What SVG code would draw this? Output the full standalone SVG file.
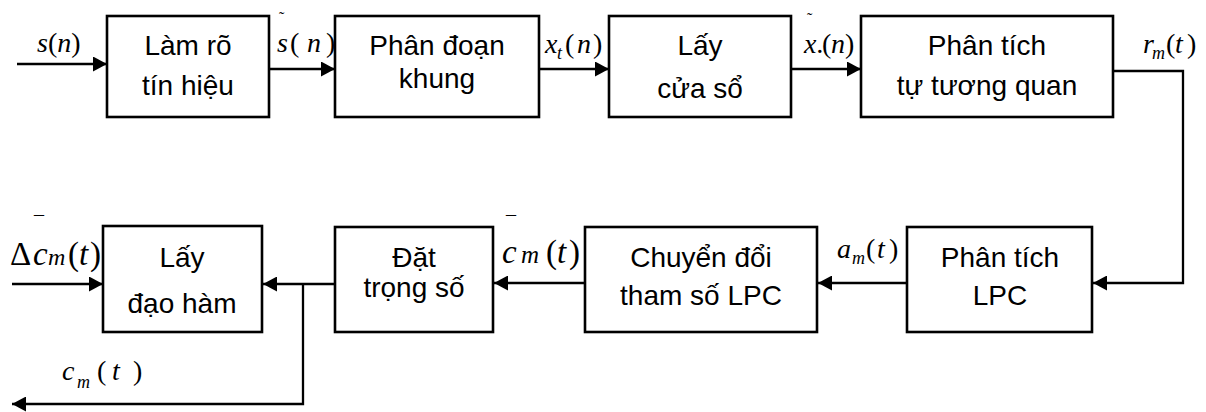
<svg xmlns="http://www.w3.org/2000/svg" width="1206" height="412" viewBox="0 0 1206 412">
<style>
.box{fill:#fff;stroke:#000;stroke-width:2.6}
.t{font-family:"Liberation Sans",Arial,sans-serif;font-size:28px;fill:#000;text-anchor:middle}
.m{font-family:"Liberation Serif","Times New Roman",serif;font-size:28px;font-style:italic;fill:#000}
.u{font-style:normal}
.sub{font-size:18px}
.acc{font-family:"Liberation Serif","Times New Roman",serif;font-size:16px;fill:#000}
.ln{fill:none;stroke:#000;stroke-width:2.3}
</style>
<defs>
<marker id="ah" markerUnits="userSpaceOnUse" markerWidth="15" markerHeight="15" refX="14" refY="7.5" orient="auto">
<path d="M0,0 L14,7.5 L0,15 z" fill="#000"/>
</marker>
</defs>
<rect width="1206" height="412" fill="#fff"/>
<g id="connectors">
<line class="ln" x1="17" y1="64" x2="107" y2="64" marker-end="url(#ah)"/>
<line class="ln" x1="269" y1="69" x2="335" y2="69" marker-end="url(#ah)"/>
<line class="ln" x1="539" y1="69" x2="609" y2="69" marker-end="url(#ah)"/>
<line class="ln" x1="791" y1="69" x2="861" y2="69" marker-end="url(#ah)"/>
<path class="ln" d="M1113,71 H1183 V283 H1093" marker-end="url(#ah)"/>
<line class="ln" x1="907" y1="283" x2="818" y2="283" marker-end="url(#ah)"/>
<line class="ln" x1="585" y1="283" x2="494" y2="283" marker-end="url(#ah)"/>
<line class="ln" x1="335" y1="284" x2="263" y2="284" marker-end="url(#ah)"/>
<line class="ln" x1="12" y1="284" x2="103" y2="284" marker-end="url(#ah)"/>
<path class="ln" d="M303,284 V404 H12" marker-end="url(#ah)"/>
</g>
<g id="n1"><rect class="box" x="107" y="16" width="162" height="101"/><text class="t" x="188" y="55">Làm rõ</text><text class="t" x="188" y="95">tín hiệu</text></g>
<g id="n2"><rect class="box" x="335" y="16" width="204" height="101"/><text class="t" x="437" y="55">Phân đoạn</text><text class="t" x="437" y="88">khung</text></g>
<g id="n3"><rect class="box" x="609" y="16" width="182" height="101"/><text class="t" x="700" y="55">Lấy</text><text class="t" x="700" y="98">cửa sổ</text></g>
<g id="n4"><rect class="box" x="861" y="16" width="252" height="101"/><text class="t" x="987" y="55">Phân tích</text><text class="t" x="987" y="95">tự tương quan</text></g>
<g id="n5"><rect class="box" x="907" y="227" width="185" height="105"/><text class="t" x="1000" y="267">Phân tích</text><text class="t" x="1000" y="305">LPC</text></g>
<g id="n6"><rect class="box" x="585" y="227" width="232" height="105"/><text class="t" x="701" y="267">Chuyển đổi</text><text class="t" x="701" y="305">tham số LPC</text></g>
<g id="n7"><rect class="box" x="335" y="227" width="158" height="105"/><text class="t" x="414" y="267">Đặt</text><text class="t" x="414" y="297">trọng số</text></g>
<g id="n8"><rect class="box" x="103" y="226" width="159" height="106"/><text class="t" x="182" y="267">Lấy</text><text class="t" x="182" y="313">đạo hàm</text></g>
<g id="labels">
<text class="m" x="37" y="52">s<tspan class="u">(</tspan>n<tspan class="u">)</tspan></text>
<text class="acc" x="279" y="23">˜</text>
<text class="m" y="52"><tspan x="277">s</tspan><tspan class="u" x="290">(</tspan><tspan x="307">n</tspan><tspan class="u" x="326">)</tspan></text>
<text class="m" y="53"><tspan x="545">x</tspan><tspan class="sub" x="557" dy="6">t</tspan><tspan class="u" x="565" dy="-6">(</tspan><tspan x="577">n</tspan><tspan class="u" x="593">)</tspan></text>
<text class="acc" x="807" y="24">˜</text>
<text class="m" y="53"><tspan x="804">x</tspan><tspan x="817">.</tspan><tspan class="u" x="822">(</tspan><tspan x="831">n</tspan><tspan class="u" x="845">)</tspan></text>
<text class="m" y="53"><tspan x="1143">r</tspan><tspan class="sub" x="1152" dy="6">m</tspan><tspan class="u" x="1166" dy="-6">(</tspan><tspan x="1175">t</tspan><tspan class="u" x="1187">)</tspan></text>
<text class="m" y="258"><tspan x="837">a</tspan><tspan class="sub" x="852" dy="6">m</tspan><tspan class="u" x="866" dy="-6">(</tspan><tspan x="877">t</tspan><tspan class="u" x="889">)</tspan></text>
<text class="acc" x="506" y="231" style="font-size:20px">¯</text>
<text class="m" y="263" style="font-size:33px"><tspan x="502">c</tspan><tspan x="521" style="font-size:25px">m</tspan><tspan class="u" x="546">(</tspan><tspan x="557">t</tspan><tspan class="u" x="569">)</tspan></text>
<text class="acc" x="34" y="231" style="font-size:20px">¯</text>
<text class="m" y="265" style="font-size:33px"><tspan class="u" x="10">Δ</tspan><tspan x="33">c</tspan><tspan x="48" style="font-size:24px">m</tspan><tspan class="u" x="68">(</tspan><tspan x="79">t</tspan><tspan class="u" x="90">)</tspan></text>
<text class="m" y="380"><tspan x="62">c</tspan><tspan class="sub" x="77" dy="8">m</tspan><tspan class="u" x="97" dy="-8">(</tspan><tspan x="112">t</tspan><tspan class="u" x="133">)</tspan></text>
</g>
</svg>
